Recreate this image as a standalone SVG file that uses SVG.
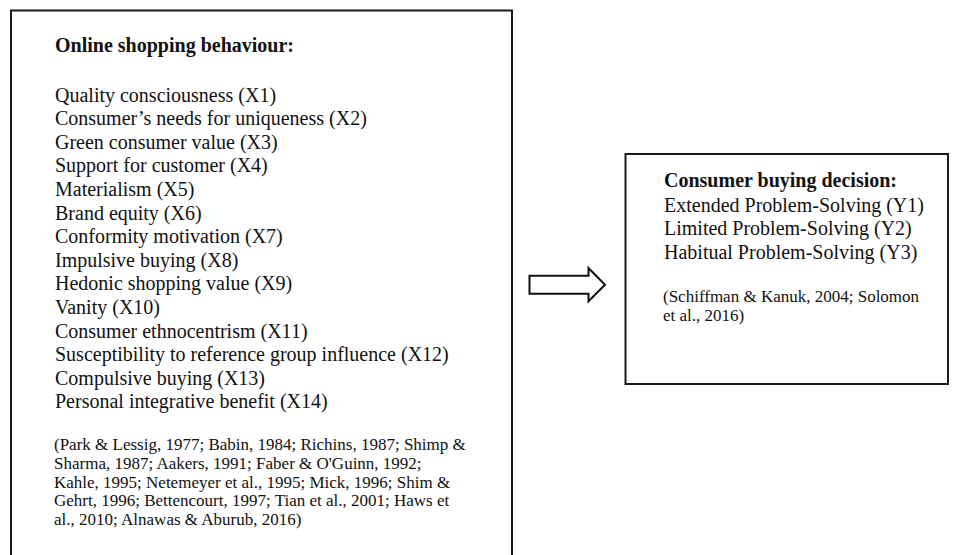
<svg xmlns="http://www.w3.org/2000/svg" width="960" height="555" viewBox="0 0 960 555">
<style>
.box{fill:none;stroke:#1a1a1a;stroke-width:2}
.t{font-family:"Liberation Serif","Times New Roman",serif;fill:#111}
.h{font-size:20px;font-weight:bold}
.i{font-size:20px}
.c{font-size:17px}
.arrow{fill:#fff;stroke:#111;stroke-width:2;stroke-linejoin:miter}
</style>
<rect width="960" height="555" fill="#fff"/>
<g id="online-shopping-behaviour">
<path class="box" d="M11,560 V10.5 H512 V560"/>
<text class="t h" x="55" y="52">Online shopping behaviour:</text>
<g class="t i">
<text x="55" y="101.5">Quality consciousness (X1)</text>
<text x="55" y="125.1">Consumer’s needs for uniqueness (X2)</text>
<text x="55" y="148.7">Green consumer value (X3)</text>
<text x="55" y="172.3">Support for customer (X4)</text>
<text x="55" y="195.9">Materialism (X5)</text>
<text x="55" y="219.5">Brand equity (X6)</text>
<text x="55" y="243.1">Conformity motivation (X7)</text>
<text x="55" y="266.7">Impulsive buying (X8)</text>
<text x="55" y="290.3">Hedonic shopping value (X9)</text>
<text x="55" y="313.9">Vanity (X10)</text>
<text x="55" y="337.5">Consumer ethnocentrism (X11)</text>
<text x="55" y="361.1">Susceptibility to reference group influence (X12)</text>
<text x="55" y="384.7">Compulsive buying (X13)</text>
<text x="55" y="408.3">Personal integrative benefit (X14)</text>
</g>
<g class="t c">
<text x="54" y="450.2">(Park &amp; Lessig, 1977; Babin, 1984; Richins, 1987; Shimp &amp;</text>
<text x="54" y="468.9">Sharma, 1987; Aakers, 1991; Faber &amp; O'Guinn, 1992;</text>
<text x="54" y="487.6">Kahle, 1995; Netemeyer et al., 1995; Mick, 1996; Shim &amp;</text>
<text x="54" y="506.3">Gehrt, 1996; Bettencourt, 1997; Tian et al., 2001; Haws et</text>
<text x="54" y="525">al., 2010; Alnawas &amp; Aburub, 2016)</text>
</g>
</g>
<g id="consumer-buying-decision">
<rect class="box" x="625.5" y="154" width="322.5" height="230"/>
<text class="t h" x="664" y="187">Consumer buying decision:</text>
<g class="t i">
<text x="664" y="212">Extended Problem-Solving (Y1)</text>
<text x="664" y="235.3">Limited Problem-Solving (Y2)</text>
<text x="664" y="258.6">Habitual Problem-Solving (Y3)</text>
</g>
<g class="t c">
<text x="663" y="302">(Schiffman &amp; Kanuk, 2004; Solomon</text>
<text x="663" y="320.5">et al., 2016)</text>
</g>
</g>
<g id="connectors">
<polygon class="arrow" points="529.5,275.7 588.5,275.7 588.5,268 605,284.7 588.5,301.3 588.5,293.7 529.5,293.7"/>
</g>
</svg>
